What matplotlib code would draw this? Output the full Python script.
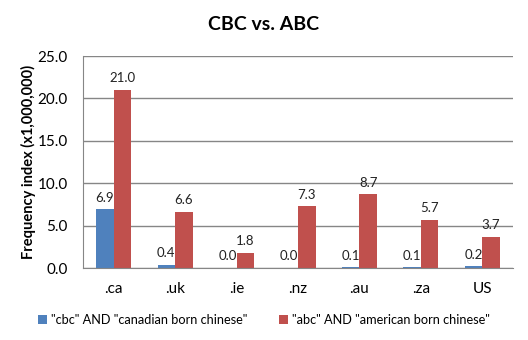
import matplotlib
matplotlib.use("Agg")
import matplotlib.pyplot as plt
import numpy as np

categories = [".ca", ".uk", ".ie", ".nz", ".au", ".za", "US"]
cbc_values = [6.9, 0.4, 0.0, 0.0, 0.1, 0.1, 0.2]
abc_values = [21.0, 6.6, 1.8, 7.3, 8.7, 5.7, 3.7]
series_names = ['"cbc" AND "canadian born chinese"', '"abc" AND "american born chinese"']
yticks = [0.0, 5.0, 10.0, 15.0, 20.0, 25.0]

plt.rcParams['font.family'] = ['Lato', 'DejaVu Sans']

fig = plt.figure(figsize=(5.28, 3.40), dpi=100)
ax = fig.add_axes([83/528, 1 - 268/340, (513-83)/528, (268-56)/340])

x = np.arange(len(categories))
w = 1 / 3.5
blue = "#4F81BD"
red = "#C0504D"
b1 = ax.bar(x - w/2, cbc_values, w, color=blue, label=series_names[0])
b2 = ax.bar(x + w/2, abc_values, w, color=red, label=series_names[1])

for bars, vals in ((b1, cbc_values), (b2, abc_values)):
    for r, v in zip(bars, vals):
        ax.annotate(f"{v:.1f}", (r.get_x() + r.get_width()/2, r.get_height()),
                    xytext=(0, 4), textcoords="offset points", ha="center", va="bottom",
                    fontsize=9.5, color="#222222")

ax.set_xlim(-0.5, len(categories) - 0.5)
ax.set_ylim(0, 25)
ax.set_yticks(yticks)
ax.set_yticklabels([f"{t:.1f}" for t in yticks], fontsize=11)
ax.set_xticks(x)
ax.set_xticklabels(categories, fontsize=11)
ax.tick_params(axis='x', length=0, pad=10)
ax.tick_params(axis='y', length=0, pad=11)
ax.yaxis.grid(True, color="#868686", linewidth=1)
ax.set_axisbelow(True)
for s in ("top", "right"):
    ax.spines[s].set_visible(False)
for s in ("left", "bottom"):
    ax.spines[s].set_color("#868686")

ax.set_ylabel("Frequency index (x1,000,000)", fontsize=10.5, fontweight="bold", labelpad=1)
fig.text(0.5, 1 - 25/340, "CBC vs. ABC", ha="center", va="center", fontsize=14, fontweight="bold")

fig.legend(handles=[b1, b2], loc="center", bbox_to_anchor=(0.5, 1 - 320/340), ncol=2,
           frameon=False, fontsize=9.2, handlelength=0.7, handleheight=0.7,
           handletextpad=0.3, columnspacing=2.5)

fig.savefig("out.png", dpi=100)
